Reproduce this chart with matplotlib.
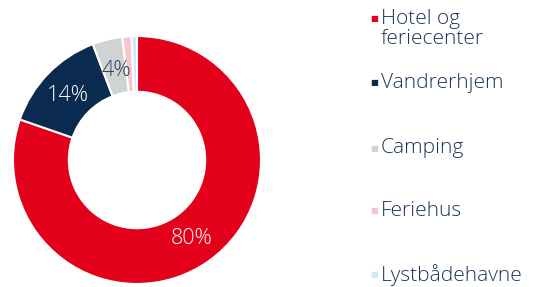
"""Donut: overnatninger fordelt på type."""
import matplotlib; matplotlib.use("Agg")
import matplotlib.pyplot as plt

labels = ["Hotel og\nferiecenter", "Vandrerhjem", "Camping", "Feriehus", "Lystbådehavne"]
shares = [80.3, 13.9, 3.9, 1.2, 0.7]
pct_text = ["80%", "14%", "4%", "", ""]
colors = ["#E2001A", "#0B2A4F", "#D0D3D4", "#F7C6CC", "#CDEBF7"]
legend_y = [287 - 19, 287 - 83, 287 - 148, 287 - 211, 287 - 274]  # px from bottom

W, H = 536, 287
fig = plt.figure(figsize=(W / 100, H / 100), dpi=100)
fig.patch.set_facecolor("white")
cx, cy, r = 137, 160, 124
ax = fig.add_axes([(cx - r) / W, (H - cy - r) / H, 2 * r / W, 2 * r / H])
wedges, _ = ax.pie(shares, colors=colors, startangle=90, counterclock=False,
                   wedgeprops=dict(width=0.45, edgecolor="white", linewidth=1.5))
ax.set_xlim(-1, 1); ax.set_ylim(-1, 1)
ax.set_aspect("equal"); ax.axis("off")

# percent labels
lab_pos = [(0.44, -0.63), (-0.56, 0.52), (-0.17, 0.72)]
lab_col = ["white", "white", "#2B3E5C"]
for t, (x, y), c in zip(pct_text, lab_pos, lab_col):
    if t:
        ax.text(x, y, t, color=c, fontsize=15.5, ha="center", va="center",
                family="Open Sans", weight="light")

# legend drawn by hand (multi-line first label)
for lab, col, yy in zip(labels, colors, legend_y):
    fig.text(374 / W, yy / H, "\u25A0", color=col, fontsize=6, ha="center", va="center")
    fig.text(381 / W, (yy + 10) / H, lab, color="#1B355A", fontsize=15, ha="left", va="top",
             family="Open Sans", weight="light", linespacing=1.0)

fig.savefig("out.png", dpi=100, facecolor="white")
